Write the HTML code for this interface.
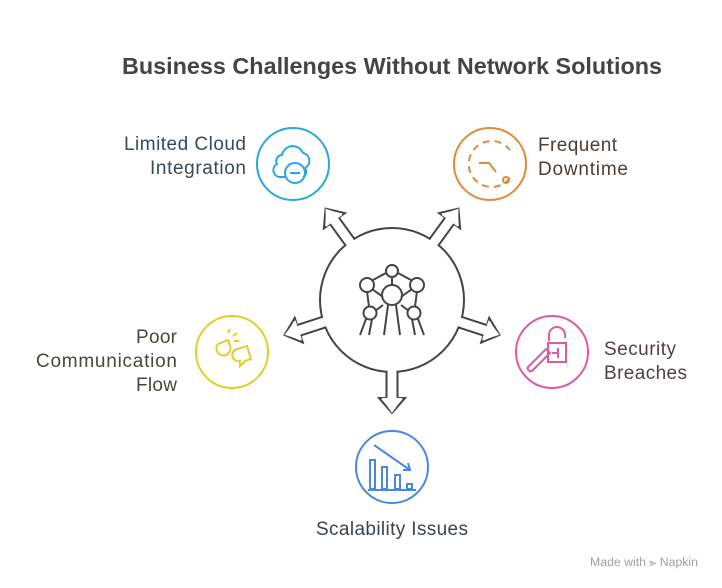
<!DOCTYPE html>
<html><head><meta charset="utf-8"><style>
html,body{margin:0;padding:0;background:#fff;}
svg{display:block;font-family:"Liberation Sans",sans-serif;}
</style></head><body>
<svg width="722" height="588" viewBox="0 0 722 588" xmlns="http://www.w3.org/2000/svg">
<text x="122" y="74" font-size="23" font-weight="bold" fill="#444" textLength="540" lengthAdjust="spacingAndGlyphs">Business Challenges Without Network Solutions</text>

<defs>
<polygon id="ar" points="0,-5.5 98,-5.5 98,-13 113,0 98,13 98,5.5 0,5.5"/>
</defs>
<g transform="translate(392,300)">
  <g fill="#fff" stroke="#444" stroke-width="2" stroke-linejoin="miter">
    <use href="#ar" transform="rotate(-126)"/>
    <use href="#ar" transform="rotate(-54)"/>
    <use href="#ar" transform="rotate(18)"/>
    <use href="#ar" transform="rotate(90)"/>
    <use href="#ar" transform="rotate(162)"/>
  </g>
  <circle r="72" fill="#fff" stroke="#444" stroke-width="2"/>
  <g fill="#fff" stroke="none">
    <use href="#ar" transform="rotate(-126) scale(1,0.8)"/>
    <use href="#ar" transform="rotate(-54) scale(1,0.8)"/>
    <use href="#ar" transform="rotate(18) scale(1,0.8)"/>
    <use href="#ar" transform="rotate(90) scale(1,0.8)"/>
    <use href="#ar" transform="rotate(162) scale(1,0.8)"/>
  </g>
  <circle r="60" fill="#fff"/>
  <g fill="none" stroke="#444" stroke-width="2">
    <line x1="0" y1="-22" x2="0" y2="-14"/>
    <line x1="-6" y1="-27" x2="-19" y2="-20"/>
    <line x1="6" y1="-27" x2="19" y2="-20"/>
    <line x1="-20" y1="-11" x2="-9" y2="-3"/>
    <line x1="20" y1="-11" x2="9" y2="-3"/>
    <line x1="-25" y1="-9" x2="-23" y2="7"/>
    <line x1="25" y1="-9" x2="23" y2="7"/>
    <line x1="-9" y1="5" x2="-17" y2="11"/>
    <line x1="9" y1="5" x2="17" y2="11"/>
    <circle cx="0" cy="-29" r="6"/>
    <circle cx="-25" cy="-15" r="7"/>
    <circle cx="25" cy="-15" r="7"/>
    <circle cx="0" cy="-5" r="10"/>
    <circle cx="-22" cy="13" r="6.5"/>
    <circle cx="22" cy="13" r="6.5"/>
    <line x1="-26" y1="19" x2="-32" y2="35"/>
    <line x1="-20" y1="19" x2="-23" y2="35"/>
    <line x1="26" y1="19" x2="32" y2="35"/>
    <line x1="20" y1="19" x2="23" y2="35"/>
    <line x1="-4" y1="5" x2="-8" y2="35"/>
    <line x1="4" y1="5" x2="8" y2="35"/>
  </g>
</g>

<g fill="none" stroke="#2aa7dc" stroke-width="2">
  <circle cx="293" cy="164" r="36"/>
  <path d="M285,177 h-6 a7,7 0 0 1 -2,-13 a6,6 0 0 1 5,-9 a11,11 0 0 1 21,-2 a8,8 0 0 1 2,15 a6,6 0 0 1 -2,9"/>
  <circle cx="295" cy="173" r="10"/>
  <line x1="290" y1="173" x2="300" y2="173"/>
</g>
<g fill="none" stroke="#e08a3a" stroke-width="2">
  <circle cx="490" cy="164" r="36"/>
  <path d="M510,178 A23,23 0 1 1 510,150" stroke-dasharray="7,5"/>
  <polyline points="479,163 489,163 496,172"/>
  <circle cx="506" cy="180" r="3"/>
</g>
<g fill="none" stroke="#e3cc2c" stroke-width="2">
  <circle cx="232" cy="352" r="36"/>
  <path d="M218,344 l10,-4 l2,6 a7,7 0 1 1 -12,-2 z"/>
  <path d="M237,349 l10,-3 l4,13 l-6,2 l-5,5 v-5 a6,6 0 0 1 -3,-12"/>
  <line x1="228" y1="333" x2="230" y2="329"/>
  <line x1="233" y1="336" x2="237" y2="333"/>
  <line x1="234" y1="341" x2="239" y2="341"/>
</g>
<g fill="none" stroke="#e05aa0" stroke-width="2">
  <circle cx="552" cy="352" r="36"/>
  <path d="M549,341 v-6 a8,8 0 0 1 16,0 v3"/>
  <rect x="548" y="343" width="18" height="19"/>
  <path d="M558,348 v10 M552,353 h6"/>
  <path d="M550,353 l-18,18 a3,3 0 0 1 -4,-4 l18,-18 z"/>
</g>
<g fill="none" stroke="#4a88e0" stroke-width="2">
  <circle cx="392" cy="467" r="36"/>
  <rect x="370" y="460" width="5" height="29"/>
  <rect x="382" y="467" width="5" height="22"/>
  <rect x="395" y="475" width="5" height="14"/>
  <rect x="407" y="484" width="5" height="5"/>
  <line x1="368" y1="490" x2="416" y2="490"/>
  <line x1="374" y1="445" x2="410" y2="470"/>
  <polyline points="403,470 410,470 408,463"/>
</g>

<g font-size="19" lengthAdjust="spacingAndGlyphs">
  <text x="124" y="150" fill="#3a4a55" textLength="122">Limited Cloud</text>
  <text x="150" y="174" fill="#3a4a55" textLength="96">Integration</text>
  <text x="538" y="151" fill="#4a4038" textLength="79">Frequent</text>
  <text x="538" y="175" fill="#4a4038" textLength="90">Downtime</text>
  <text x="136" y="343" fill="#4a4838" textLength="41">Poor</text>
  <text x="36" y="367" fill="#4a4838" textLength="141">Communication</text>
  <text x="136" y="391" fill="#4a4838" textLength="41">Flow</text>
  <text x="604" y="355" fill="#50404a" textLength="72">Security</text>
  <text x="604" y="379" fill="#50404a" textLength="83">Breaches</text>
  <text x="316" y="535" fill="#3a4250" textLength="152">Scalability Issues</text>
</g>
<text x="590" y="566" font-size="11.5" fill="#a0a0a0" textLength="108" lengthAdjust="spacingAndGlyphs">Made with ⪢ Napkin</text>
</svg>
</body></html>
